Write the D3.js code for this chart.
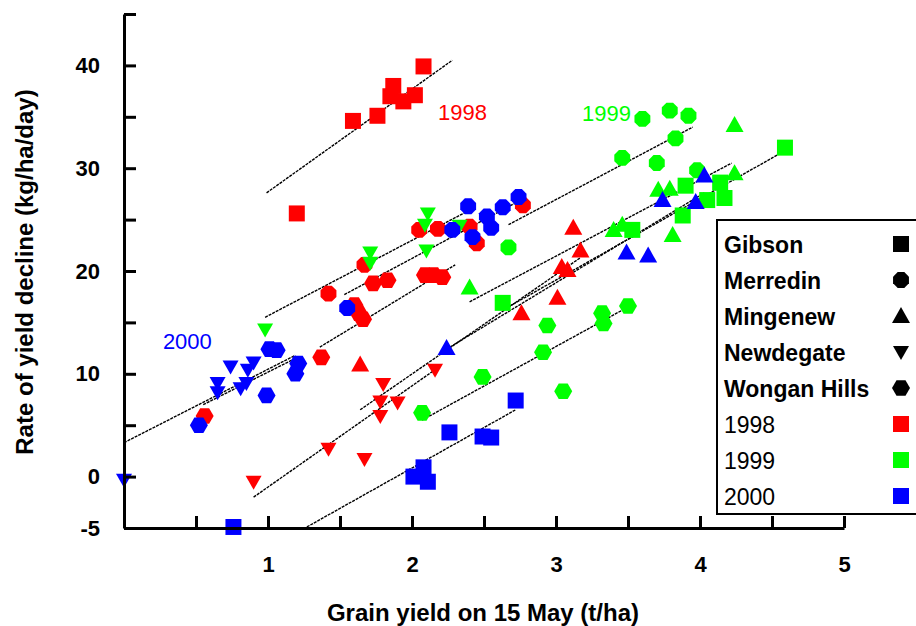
<!DOCTYPE html>
<html lang="en">
<head>
<meta charset="UTF-8">
<title>Rate of yield decline</title>
<script src="https://d3js.org/d3.v7.min.js"></script>
<style>
  body { margin: 0; background: #fff; }
  svg text { font-family: "Liberation Sans", Arial, sans-serif; }
  .axis path, .axis line { stroke: #000; stroke-width: 3; }
  .axis text { font-size: 22px; font-weight: bold; fill: #000; }
  .fit { fill: none; stroke: #000; stroke-width: 1.4; stroke-dasharray: 3 1; }
</style>
</head>
<body>
<svg id="chart"></svg>
<script>
const width = 916, height = 626;

// tick labels
const xTicks = [0.5, 1, 1.5, 2, 2.5, 3, 3.5, 4, 4.5, 5];
const xLabels = [1, 2, 3, 4, 5];
const yTicks = [-5, 0, 5, 10, 15, 20, 25, 30, 35, 40, 45];
const yLabels = [-5, 0, 10, 20, 30, 40];

const sites = ["Gibson", "Merredin", "Mingenew", "Newdegate", "Wongan Hills"];
const years = ["1998", "1999", "2000"];

// points: [grain yield t/ha, rate of decline kg/ha/day]
const gibson98 = [[1.20, 25.6], [1.59, 34.6], [1.76, 35.1], [1.85, 37.0], [1.87, 38.0], [1.94, 36.5], [2.02, 37.1], [2.08, 39.9]];
const merredin98 = [[1.42, 17.8], [1.67, 20.6], [2.05, 24.0], [2.18, 24.1], [2.40, 24.3], [2.45, 22.7], [2.77, 26.4]];
const mingenew98 = [[1.64, 10.9], [2.76, 15.9], [3.01, 17.4], [3.04, 20.4], [3.08, 20.1], [3.12, 24.2], [3.17, 22.0]];
const newdegate98 = [[0.90, -0.5], [1.42, 2.7], [1.67, 1.7], [1.78, 5.9], [1.78, 7.3], [1.80, 9.0], [1.90, 7.2], [2.16, 10.4]];
const wongan98 = [[0.56, 5.9], [1.37, 11.6], [1.60, 16.7], [1.63, 15.9], [1.66, 15.3], [1.73, 18.8], [1.83, 19.1], [2.09, 19.6], [2.15, 19.6], [2.21, 19.4]];

const gibson99 = [[2.63, 16.9], [3.53, 24.0], [3.88, 25.4], [3.90, 28.3], [4.05, 26.9], [4.14, 28.6], [4.17, 27.1], [4.59, 32.0]];
const merredin99 = [[2.67, 22.3], [3.46, 31.0], [3.60, 34.8], [3.70, 30.5], [3.79, 35.6], [3.83, 32.9], [3.92, 35.1], [3.98, 29.8]];
const mingenew99 = [[2.40, 18.4], [3.40, 24.0], [3.46, 24.5], [3.71, 27.9], [3.79, 28.0], [3.81, 23.5], [4.24, 29.5], [4.24, 34.2]];
const newdegate99 = [[0.98, 14.3], [1.71, 21.8], [1.71, 20.8], [2.09, 24.5], [2.10, 22.0], [2.11, 25.6], [2.33, 24.4]];
const wongan99 = [[2.07, 6.2], [2.49, 9.7], [2.91, 12.1], [2.94, 14.7], [3.05, 8.3], [3.32, 15.9], [3.33, 14.9], [3.50, 16.6]];

const gibson00 = [[0.76, -4.9], [2.01, 0.0], [2.08, 0.9], [2.11, -0.5], [2.26, 4.3], [2.49, 3.9], [2.55, 3.8], [2.72, 7.4]];
const merredin00 = [[1.55, 16.4], [2.28, 24.0], [2.39, 26.3], [2.42, 23.3], [2.52, 25.3], [2.55, 24.2], [2.63, 26.2], [2.74, 27.2]];
const mingenew00 = [[2.24, 12.5], [3.49, 21.8], [3.64, 21.5], [3.74, 26.9], [3.97, 26.7], [4.03, 29.3]];
const newdegate00 = [[0.0, -0.3], [0.65, 8.2], [0.65, 9.1], [0.74, 10.7], [0.81, 8.6], [0.85, 9.1], [0.86, 10.4], [0.90, 11.1]];
const wongan00 = [[0.52, 5.0], [0.99, 7.9], [1.01, 12.4], [1.06, 12.3], [1.19, 10.0], [1.21, 11.0]];

// fitted lines: [x0, y0, x1, y1]
const fitLines = [
  [0.99, 27.6, 2.28, 40.5],   // 1998 Gibson
  [0.00, 3.3, 1.19, 11.8],    // 2000 Newdegate
  [0.55, 7.0, 1.19, 11.5],    // 2000 Wongan Hills
  [0.98, 15.5, 2.37, 25.7],   // 1999 Newdegate
  [1.53, 17.7, 2.73, 26.7],   // 2000 Merredin
  [1.36, 12.6, 2.30, 20.6],   // 1998 Wongan Hills
  [1.64, 6.5, 3.17, 21.3],    // 1998 Mingenew
  [0.90, -2.0, 2.16, 10.4],   // 1998 Newdegate
  [2.24, 12.4, 4.03, 27.6],   // 2000 Mingenew
  [2.63, 16.2, 4.59, 31.7],   // 1999 Gibson
  [2.40, 17.0, 4.22, 30.5],   // 1999 Mingenew
  [2.67, 24.5, 3.95, 34.0],   // 1999 Merredin
  [2.07, 5.5, 3.50, 16.5],    // 1999 Wongan Hills
  [1.27, -4.9, 2.72, 6.5]     // 2000 Gibson
];

const groups = [
  { site: "Gibson", year: "1998", pts: gibson98 },
  { site: "Merredin", year: "1998", pts: merredin98 },
  { site: "Mingenew", year: "1998", pts: mingenew98 },
  { site: "Newdegate", year: "1998", pts: newdegate98 },
  { site: "Wongan Hills", year: "1998", pts: wongan98 },
  { site: "Gibson", year: "1999", pts: gibson99 },
  { site: "Merredin", year: "1999", pts: merredin99 },
  { site: "Mingenew", year: "1999", pts: mingenew99 },
  { site: "Newdegate", year: "1999", pts: newdegate99 },
  { site: "Wongan Hills", year: "1999", pts: wongan99 },
  { site: "Gibson", year: "2000", pts: gibson00 },
  { site: "Merredin", year: "2000", pts: merredin00 },
  { site: "Mingenew", year: "2000", pts: mingenew00 },
  { site: "Newdegate", year: "2000", pts: newdegate00 },
  { site: "Wongan Hills", year: "2000", pts: wongan00 }
];

const color = d3.scaleOrdinal().domain(years).range(["#ff0000", "#00ff00", "#0000ff"]);

const x = d3.scaleLinear().domain([0, 5]).range([124, 844]);
const y = d3.scaleLinear().domain([-5, 45]).range([528, 14]);

const svg = d3.select("#chart").attr("width", width).attr("height", height);

// marker shapes
function poly(n, r, rot) {
  const p = d3.range(n).map(i => {
    const a = rot + i * 2 * Math.PI / n;
    return [r * Math.cos(a), r * Math.sin(a)];
  });
  return "M" + p.join("L") + "Z";
}
const shapes = {
  "Gibson": "M-8,-8H8V8H-8Z",
  "Merredin": poly(8, 8.6, Math.PI / 8),
  "Mingenew": "M0,-9L9,7H-9Z",
  "Newdegate": "M0,8L-8,-6H8Z",
  "Wongan Hills": poly(6, 9, 0)
};

// fitted lines
svg.append("g").selectAll("line")
  .data(fitLines)
  .join("line")
  .attr("class", "fit")
  .attr("x1", d => x(d[0])).attr("y1", d => y(d[1]))
  .attr("x2", d => x(d[2])).attr("y2", d => y(d[3]));

// points
const pts = groups.flatMap(g => g.pts.map(p => ({ site: g.site, year: g.year, x: p[0], y: p[1] })));
svg.append("g").selectAll("path")
  .data(pts)
  .join("path")
  .attr("d", d => shapes[d.site])
  .attr("transform", d => `translate(${x(d.x)},${y(d.y)})`)
  .attr("fill", d => color(d.year));

// axes
svg.append("g")
  .attr("class", "axis")
  .attr("transform", `translate(${x(0)},0)`)
  .call(d3.axisLeft(y).tickValues(yTicks).tickSizeInner(-12).tickSizeOuter(0).tickPadding(24)
    .tickFormat(d => yLabels.includes(d) ? d : ""));

svg.append("g")
  .attr("class", "axis")
  .attr("transform", `translate(0,${y(-5)})`)
  .call(d3.axisBottom(x).tickValues(xTicks).tickSizeInner(-12).tickSizeOuter(0).tickPadding(28)
    .tickFormat(d => xLabels.includes(d) ? d : ""));

// axis titles
svg.append("text")
  .attr("x", 483).attr("y", 621)
  .attr("text-anchor", "middle")
  .style("font-size", "24px").style("font-weight", "bold")
  .text("Grain yield on 15 May (t/ha)");

svg.append("text")
  .attr("transform", "translate(33,272) rotate(-90)")
  .attr("text-anchor", "middle")
  .style("font-size", "24px").style("font-weight", "bold")
  .text("Rate of yield decline (kg/ha/day)");

// year annotations
const yearNotes = [
  { year: "1998", x: 2.35, y: 34.7 },
  { year: "1999", x: 3.35, y: 34.6 },
  { year: "2000", x: 0.44, y: 12.4 }
];
svg.append("g").selectAll("text")
  .data(yearNotes)
  .join("text")
  .attr("x", d => x(d.x)).attr("y", d => y(d.y))
  .attr("text-anchor", "middle")
  .style("font-size", "22px")
  .attr("fill", d => color(d.year))
  .text(d => d.year);

// legend
const legend = svg.append("g");
legend.append("rect")
  .attr("x", 717).attr("y", 220).attr("width", 220).attr("height", 294)
  .attr("fill", "#fff").attr("stroke", "#000").attr("stroke-width", 2);

const legendItems = sites.map(s => ({ label: s, site: s, fill: "#000", bold: true }))
  .concat(years.map(yr => ({ label: yr, site: "Gibson", fill: color(yr), bold: false })));

const rows = legend.selectAll("g.row")
  .data(legendItems)
  .join("g")
  .attr("class", "row")
  .attr("transform", (d, i) => `translate(0,${253 + i * 36})`);

rows.append("text")
  .attr("x", 724)
  .style("font-size", "23px")
  .style("font-weight", d => d.bold ? "bold" : "normal")
  .text(d => d.label);

rows.append("path")
  .attr("d", d => shapes[d.site])
  .attr("transform", "translate(901,-9)")
  .attr("fill", d => d.fill);
</script>
</body>
</html>
